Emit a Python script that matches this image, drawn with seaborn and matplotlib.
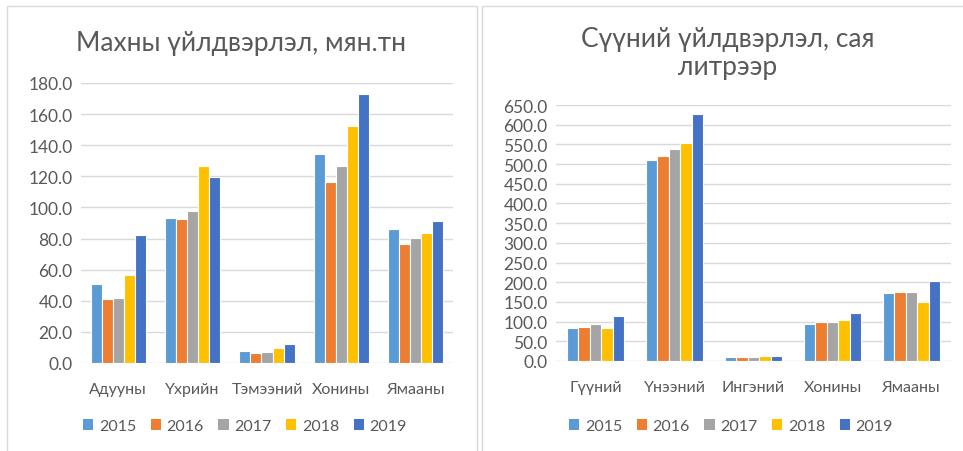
import matplotlib
matplotlib.use("Agg")
import matplotlib.pyplot as plt
import seaborn as sns
import pandas as pd
from matplotlib.patches import Rectangle, Patch
from matplotlib.ticker import FuncFormatter, MultipleLocator

years = ["2015", "2016", "2017", "2018", "2019"]
colors = ["#5B9BD5", "#ED7D31", "#A5A5A5", "#FFC000", "#4472C4"]

meat_title = "Махны үйлдвэрлэл, мян.тн"
meat_categories = ["Адууны", "Үхрийн", "Тэмээний", "Хонины", "Ямааны"]
meat_2015 = [50.6, 92.9, 7.9, 134.6, 86.0]
meat_2016 = [41.4, 92.3, 6.4, 116.1, 76.8]
meat_2017 = [41.8, 97.7, 6.8, 126.6, 80.5]
meat_2018 = [56.7, 126.6, 9.6, 152.6, 83.7]
meat_2019 = [82.1, 119.3, 12.4, 172.9, 91.6]

milk_title = "Сүүний үйлдвэрлэл, сая\nлитрээр"
milk_categories = ["Гүүний", "Үнээний", "Ингэний", "Хонины", "Ямааны"]
milk_2015 = [85.0, 511.5, 9.4, 95.0, 173.0]
milk_2016 = [86.6, 521.7, 11.0, 99.3, 174.0]
milk_2017 = [95.0, 539.5, 11.0, 100.0, 175.6]
milk_2018 = [84.0, 553.0, 12.7, 104.3, 150.2]
milk_2019 = [113.0, 627.7, 12.7, 121.4, 202.8]

sns.set_theme(style="white")
plt.rcParams['font.family'] = ['Lato', 'DejaVu Sans']
TXT = "#595959"
GRID = "#D9D9D9"


def long_df(cats, series):
    rows = []
    for y, vals in zip(years, series):
        for c, v in zip(cats, vals):
            rows.append({"cat": c, "year": y, "value": v})
    return pd.DataFrame(rows)


fig = plt.figure(figsize=(9.63, 4.52), dpi=100)
fig.patch.set_facecolor("white")

# panel borders
fig.patches.append(Rectangle((7 / 963, -0.01), 470 / 963, 1.0 - 7 / 452 + 0.01,
                             transform=fig.transFigure, fill=False,
                             edgecolor=GRID, linewidth=1))
fig.patches.append(Rectangle((482 / 963, -0.01), 0.55, 1.0 - 7 / 452 + 0.01,
                             transform=fig.transFigure, fill=False,
                             edgecolor=GRID, linewidth=1))


def draw(ax, cats, series, ymax, step, width):
    df = long_df(cats, series)
    sns.barplot(data=df, x="cat", y="value", hue="year", order=cats,
                hue_order=years, palette=colors, width=width,
                edgecolor="white", linewidth=0.8, saturation=1, ax=ax,
                legend=False)
    ax.set_ylim(0, ymax)
    ax.yaxis.set_major_locator(MultipleLocator(step))
    ax.yaxis.set_major_formatter(FuncFormatter(lambda v, p: f"{v:.1f}"))
    ax.set_xlim(-0.5, len(cats) - 0.5)
    ax.grid(axis="y", color=GRID, linewidth=1)
    ax.set_axisbelow(True)
    for s in ax.spines.values():
        s.set_visible(False)
    ax.set_xlabel("")
    ax.set_ylabel("")
    ax.tick_params(axis="y", length=0, labelsize=12.5, labelcolor=TXT, pad=6)
    ax.tick_params(axis="x", length=0, labelsize=11.5, labelcolor=TXT, pad=14)
    handles = [Patch(facecolor=c, edgecolor="none") for c in colors]
    return handles


LEG = dict(loc="center", ncol=5, frameon=False, fontsize=11.5, labelcolor=TXT,
           handlelength=0.65, handleheight=0.65, handletextpad=0.35,
           columnspacing=0.9)

ax1 = fig.add_axes([81 / 963, (452 - 364) / 452, 372 / 963, 280 / 452])
h = draw(ax1, meat_categories, [meat_2015, meat_2016, meat_2017, meat_2018, meat_2019],
         180, 20, 0.74)
fig.text(241 / 963, 1 - 44 / 452, meat_title, ha="center", va="center",
         fontsize=19, color=TXT)
fig.legend(h, years, bbox_to_anchor=(245 / 963, 1 - 427 / 452), **LEG)

ax2 = fig.add_axes([556 / 963, (452 - 362) / 452, 395 / 963, 256 / 452])
h = draw(ax2, milk_categories, [milk_2015, milk_2016, milk_2017, milk_2018, milk_2019],
         650, 50, 0.73)
fig.text(728 / 963, 1 - 53 / 452, milk_title, ha="center", va="center",
         fontsize=19, color=TXT, linespacing=1.15)
fig.legend(h, years, bbox_to_anchor=(731 / 963, 1 - 427 / 452), **LEG)

fig.savefig("out.png", dpi=100, facecolor="white")
